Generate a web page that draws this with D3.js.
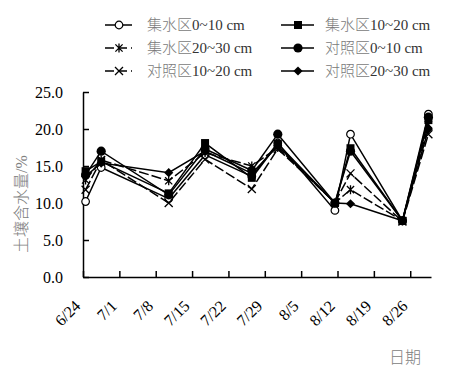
<!DOCTYPE html>
<html>
<head>
<meta charset="utf-8">
<script src="https://cdn.jsdelivr.net/npm/d3@7"></script>
<style>
  body { margin: 0; background: #fff; }
  svg { display: block; }
</style>
</head>
<body>
<div id="chart"></div>
<script>
// sampling dates (month/day) and weekly tick labels
var dates = ["6/24", "6/27", "7/10", "7/17", "7/26", "7/31", "8/11", "8/14", "8/24", "8/29"];
var tickLabels = ["6/24", "7/1", "7/8", "7/15", "7/22", "7/29", "8/5", "8/12", "8/19", "8/26"];
var yTicks = [0, 5, 10, 15, 20, 25];

// soil moisture, %
var jsq0_10  = [10.2, 14.8, 10.6, 16.5, 13.6, 18.1, 9.0, 19.3, 7.6, 22.0];
var jsq10_20 = [14.3, 15.6, 11.3, 18.1, 13.4, 18.0, 10.0, 17.4, 7.6, 21.2];
var jsq20_30 = [13.1, 15.8, 13.0, 16.8, 15.0, 17.5, 10.0, 11.8, 7.6, 20.6];
var dz0_10   = [13.8, 17.0, 11.1, 17.3, 14.4, 19.3, 10.0, 17.0, 7.6, 21.6];
var dz10_20  = [11.8, 15.8, 10.0, 15.9, 11.9, 17.3, 10.1, 14.0, 7.5, 19.3];
var dz20_30  = [13.6, 15.4, 14.1, 17.0, 14.0, 17.7, 10.0, 9.9, 7.6, 20.0];

var seriesNames = ["集水区0~10 cm", "集水区10~20 cm", "集水区20~30 cm",
                   "对照区0~10 cm", "对照区10~20 cm", "对照区20~30 cm"];
var seriesValues = [jsq0_10, jsq10_20, jsq20_30, dz0_10, dz10_20, dz20_30];
var seriesMarkers = ["openCircle", "square", "asterisk", "circle", "cross", "diamond"];
var seriesDashed = [false, false, true, false, true, false];

var W = 463, H = 386;
var margin = {top: 92, right: 32, bottom: 109, left: 83};

var svg = d3.select("#chart").append("svg")
    .attr("width", W)
    .attr("height", H);

var g = svg.append("g")
    .attr("transform", "translate(" + margin.left + "," + margin.top + ")");

var width = W - margin.left - margin.right,
    height = H - margin.top - margin.bottom;

function md(s) {
  var p = s.split("/");
  return new Date(Date.UTC(2020, +p[0] - 1, +p[1]));
}

// date axis, points sit in the middle of their day
var xScale = d3.scaleUtc()
    .domain([md("6/24"), md("8/30")])
    .range([0, width]);
var yScale = d3.scaleLinear()
    .domain([0, 25])
    .range([height, 0]);

function px(s) { return xScale(new Date(md(s).getTime() + 12 * 3600 * 1000)); }

// axes
var xAxis = g.append("g")
    .attr("transform", "translate(0," + height + ")")
    .call(d3.axisBottom(xScale)
      .tickValues(tickLabels.map(md))
      .tickSizeInner(-6)
      .tickSizeOuter(0)
      .tickFormat(function(d, i) { return tickLabels[i]; }));
xAxis.selectAll("text")
    .attr("y", 0).attr("dy", 0)
    .attr("text-anchor", "end")
    .attr("transform", "translate(-2,30) rotate(-45)");

var yAxis = g.append("g")
    .call(d3.axisLeft(yScale)
      .tickValues(yTicks)
      .tickSizeInner(-6)
      .tickSizeOuter(0)
      .tickPadding(20)
      .tickFormat(d3.format(".1f")));

g.selectAll(".domain, .tick line")
    .attr("stroke", "#000")
    .attr("stroke-width", 1.5);
g.selectAll(".tick text")
    .attr("fill", "#000")
    .style("font-family", "'Liberation Serif', 'Times New Roman', serif")
    .style("font-size", "16px");

// markers
function drawMarker(sel, type) {
  if (type === "openCircle") {
    sel.append("circle").attr("r", 3.8).attr("fill", "#fff").attr("stroke", "#000").attr("stroke-width", 1.2);
  } else if (type === "circle") {
    sel.append("circle").attr("r", 4.6).attr("fill", "#000");
  } else if (type === "square") {
    sel.append("rect").attr("x", -4).attr("y", -4).attr("width", 8).attr("height", 8).attr("fill", "#000");
  } else if (type === "diamond") {
    sel.append("path").attr("d", "M0,-4.6L4.6,0L0,4.6L-4.6,0Z").attr("fill", "#000");
  } else if (type === "cross") {
    sel.append("path").attr("d", "M-4,-4L4,4M-4,4L4,-4").attr("stroke", "#000").attr("stroke-width", 1.3).attr("fill", "none");
  } else if (type === "asterisk") {
    sel.append("path").attr("d", "M-3.6,-3.6L3.6,3.6M-3.6,3.6L3.6,-3.6M0,-4.5L0,4.5").attr("stroke", "#000").attr("stroke-width", 1.3).attr("fill", "none");
  }
}

var line = d3.line()
    .x(function(d) { return px(d.date); })
    .y(function(d) { return yScale(d.value); });

seriesValues.forEach(function(vals, si) {
  var data = dates.map(function(d, i) { return {date: d, value: vals[i]}; });
  g.append("path")
      .datum(data)
      .attr("fill", "none")
      .attr("stroke", "#000")
      .attr("stroke-width", 1.5)
      .attr("stroke-dasharray", seriesDashed[si] ? "10,3" : null)
      .attr("d", line);
  g.selectAll(null)
      .data(data)
      .enter().append("g")
      .attr("transform", function(d) { return "translate(" + px(d.date) + "," + yScale(d.value) + ")"; })
      .each(function() { drawMarker(d3.select(this), seriesMarkers[si]); });
});

// text helper: CJK in grey, latin darker
function mixedText(sel, str, cjkFill, latFill) {
  var parts = str.match(/[\u4e00-\u9fff]+|[^\u4e00-\u9fff]+/g);
  parts.forEach(function(p) {
    var cjk = /[\u4e00-\u9fff]/.test(p);
    sel.append("tspan")
        .text(p)
        .attr("fill", cjk ? cjkFill : latFill)
        .style("font-family", cjk ? "'Noto Sans CJK SC', sans-serif" : "'Liberation Serif', 'Times New Roman', serif")
        .style("font-weight", cjk ? 300 : 400);
  });
}

// legend
var legend = svg.append("g");
var legX = [105, 281], legY = [25, 48, 71];
var legLen = [27, 33], legMark = [14, 17], legText = [42, 44];
seriesNames.forEach(function(name, i) {
  var col = i % 2, row = Math.floor(i / 2);
  var item = legend.append("g")
      .attr("transform", "translate(" + legX[col] + "," + legY[row] + ")");
  item.append("line")
      .attr("x1", 0).attr("x2", legLen[col])
      .attr("stroke", "#000").attr("stroke-width", 1.5)
      .attr("stroke-dasharray", seriesDashed[i] ? "9,4" : null);
  var m = item.append("g").attr("transform", "translate(" + legMark[col] + ",0)");
  drawMarker(m, seriesMarkers[i]);
  var t = item.append("text")
      .attr("x", legText[col])
      .attr("y", 5)
      .style("font-size", "15px");
  mixedText(t, name, "#7a7a7a", "#333");
});

// axis titles
var yTitle = svg.append("text")
    .attr("transform", "translate(27,204) rotate(-90)")
    .attr("text-anchor", "middle")
    .style("font-size", "16px");
mixedText(yTitle, "土壤含水量/%", "#808080", "#808080");

svg.append("text")
    .attr("x", 405)
    .attr("y", 363)
    .attr("text-anchor", "middle")
    .attr("fill", "#808080")
    .style("font-family", "'Noto Sans CJK SC', sans-serif")
    .style("font-weight", 300)
    .style("font-size", "16px")
    .text("日期");
</script>
</body>
</html>
